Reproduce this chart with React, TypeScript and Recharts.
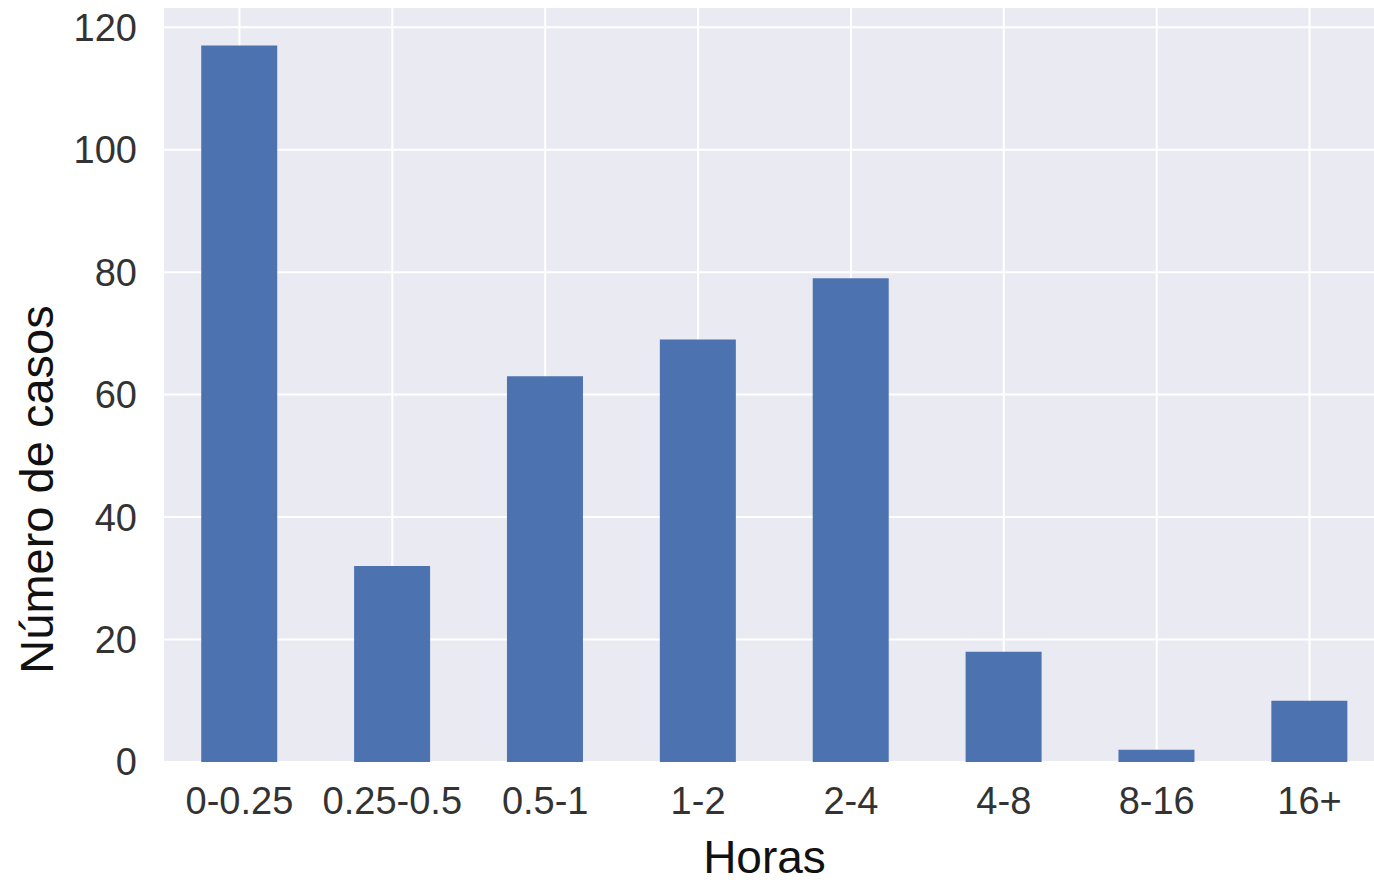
import { BarChart, Bar, XAxis, YAxis, CartesianGrid, Label } from "recharts";

const CATEGORIES = ["0-0.25", "0.25-0.5", "0.5-1", "1-2", "2-4", "4-8", "8-16", "16+"];
const CASES = [117, 32, 63, 69, 79, 18, 2, 10];
const Y_TICKS = [0, 20, 40, 60, 80, 100, 120];

const data = CATEGORIES.map((horas, i) => ({ horas, casos: CASES[i] }));

const FONT = "'Liberation Sans', Arial, sans-serif";

function YLabel(props: any) {
  const vb = props.viewBox || { x: 0, y: 0, width: 0, height: 0 };
  const x = vb.x + 36;
  const y = vb.y + vb.height / 2 + 105;
  return (
    <text
      x={x}
      y={y}
      transform={`rotate(-90, ${x}, ${y})`}
      textAnchor="middle"
      dominantBaseline="central"
      fontFamily={FONT}
      fontSize={47}
      fill="#111"
    >
      Número de casos
    </text>
  );
}

export default function App() {
  return (
    <div
      style={{
        position: "absolute",
        left: 0,
        top: 0,
        width: 1374,
        height: 887,
        overflow: "hidden",
        background: "#fff",
      }}
    >
      <BarChart
        width={1400}
        height={887}
        data={data}
        margin={{ top: 7, right: 14, left: 0, bottom: 0 }}
        barCategoryGap="25%"
      >
        <CartesianGrid fill="#EAEAF2" stroke="#fff" strokeWidth={2} />
        <XAxis
          dataKey="horas"
          height={125}
          axisLine={false}
          tickLine={false}
          tickSize={0}
          tickMargin={25}
          interval={0}
          tick={{ fontSize: 38, fill: "#333", fontFamily: FONT }}
        >
          <Label
            value="Horas"
            position="insideBottom"
            offset={14}
            dx={-10}
            style={{ fontSize: 46, fill: "#111", fontFamily: FONT }}
          />
        </XAxis>
        <YAxis
          width={163}
          domain={[0, 123.3]}
          ticks={Y_TICKS}
          axisLine={false}
          tickLine={false}
          tickSize={0}
          tickMargin={26}
          tick={{ fontSize: 38, fill: "#333", fontFamily: FONT }}
          label={<YLabel />}
        />
        <Bar dataKey="casos" fill="#4C72B0" isAnimationActive={false} />
      </BarChart>
    </div>
  );
}
